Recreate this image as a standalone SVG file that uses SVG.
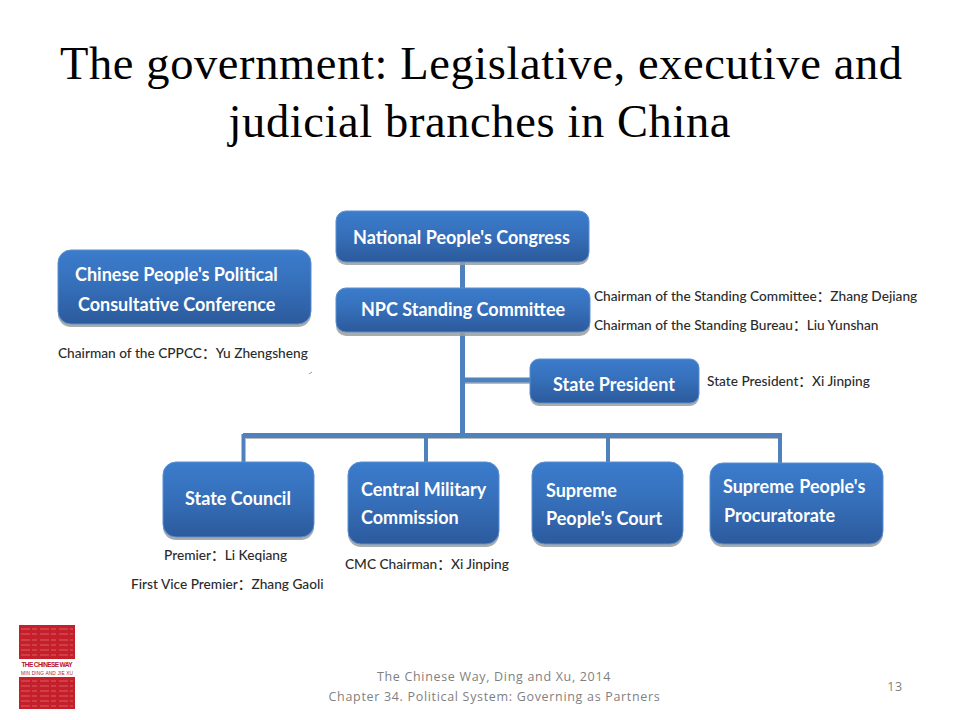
<svg xmlns="http://www.w3.org/2000/svg" width="960" height="720" viewBox="0 0 960 720">
<style>
.title{font-family:"Liberation Serif",serif;font-size:46.500px;fill:#000;text-anchor:middle}
.box{fill:url(#bg);stroke:#5b8fd0;stroke-width:1}
.sh{fill:#9a9d9b;opacity:.85}
.t{font-family:Lato,"Liberation Sans",sans-serif;font-weight:700;font-size:18px;fill:#fff}
.n{font-family:Lato,"Noto Sans CJK SC",sans-serif;font-size:13.700px;fill:#2b2b2b;font-weight:500}
.f{font-family:"Open Sans","Liberation Sans",sans-serif;font-size:12.500px;fill:#7f7f7f;text-anchor:middle;letter-spacing:.68px}
.c{stroke:#4f81bd;stroke-width:5;fill:none}
.c2{stroke:#4f81bd;stroke-width:4;fill:none}
.cs{stroke:#b9bcbc;stroke-width:2;fill:none}
.lg{font-family:"Liberation Sans",sans-serif;fill:#b81525}
.tx{stroke:#dc5a5f;stroke-width:1.500;stroke-dasharray:9 2 5 3;fill:none;opacity:.7}
</style>
<defs>
<linearGradient id="bg" x1="0" y1="0" x2="0" y2="1"><stop offset="0" stop-color="#3b7ccc"/><stop offset=".45" stop-color="#3670bb"/><stop offset="1" stop-color="#2c5a9c"/></linearGradient>
</defs>
<rect width="960" height="720" fill="#fff"/>
<g id="title">
<text class="title" x="481" y="79" textLength="842" lengthAdjust="spacing">The government: Legislative, executive and</text>
<text class="title" x="479.500" y="137" textLength="502" lengthAdjust="spacing">judicial branches in China</text>
</g>
<g id="connectors">
<path class="cs" d="M246 438H782M465 383H530"/>
<path class="c" d="M462.500 262V288M462.500 333V436M462 380H531M243 435.500H782"/>
<path class="c2" d="M243.500 434V463M426 434V463M608 434V463M780 434V464"/>
</g>
<g id="node-npc">
<rect class="sh" x="336" y="214" width="253" height="51" rx="10"/>
<rect class="box" x="336" y="211" width="253" height="51" rx="10"/>
<text class="t" x="353" y="244">National People's Congress</text>
</g>
<g id="node-standing">
<rect class="sh" x="336" y="291" width="254" height="45" rx="10"/>
<rect class="box" x="336" y="288" width="254" height="44" rx="10"/>
<text class="t" x="361" y="316">NPC Standing Committee</text>
<text class="n" x="594" y="301">Chairman of the Standing Committee：Zhang Dejiang</text>
<text class="n" x="594" y="330">Chairman of the Standing Bureau：Liu Yunshan</text>
</g>
<g id="node-cppcc">
<rect class="sh" x="58" y="253" width="253" height="74" rx="13"/>
<rect class="box" x="58" y="250" width="253" height="74" rx="13"/>
<text class="t" x="75" y="281">Chinese People's Political</text>
<text class="t" x="78" y="311">Consultative Conference</text>
<text class="n" x="58" y="358">Chairman of the CPPCC：Yu Zhengsheng</text>
<path d="M309 374L312 372" stroke="#9a9a9a" stroke-width="1"/>
</g>
<g id="node-president">
<rect class="sh" x="530" y="362" width="169" height="44" rx="9"/>
<rect class="box" x="530" y="359" width="169" height="44" rx="9"/>
<text class="t" x="553" y="391">State President</text>
<text class="n" x="707" y="386">State President：Xi Jinping</text>
</g>
<g id="node-council">
<rect class="sh" x="163" y="465" width="151" height="75" rx="13"/>
<rect class="box" x="163" y="462" width="151" height="75" rx="13"/>
<text class="t" x="185" y="505">State Council</text>
<text class="n" x="164" y="560">Premier：Li Keqiang</text>
<text class="n" x="131" y="589">First Vice Premier：Zhang Gaoli</text>
</g>
<g id="node-cmc">
<rect class="sh" x="348" y="465" width="151" height="82" rx="13"/>
<rect class="box" x="348" y="462" width="151" height="82" rx="13"/>
<text class="t" x="361" y="496">Central Military</text>
<text class="t" x="361" y="524">Commission</text>
<text class="n" x="345" y="569">CMC Chairman：Xi Jinping</text>
</g>
<g id="node-court">
<rect class="sh" x="532" y="465" width="151" height="82" rx="13"/>
<rect class="box" x="532" y="462" width="151" height="82" rx="13"/>
<text class="t" x="546" y="497">Supreme</text>
<text class="t" x="546" y="525">People's Court</text>
</g>
<g id="node-procuratorate">
<rect class="sh" x="710" y="466" width="173" height="81" rx="13"/>
<rect class="box" x="710" y="463" width="173" height="81" rx="13"/>
<text class="t" x="723" y="493" word-spacing="1">Supreme People's</text>
<text class="t" x="724" y="522">Procuratorate</text>
</g>
<g id="logo">
<rect x="19" y="625" width="56" height="84" fill="#c4202c"/>
<path class="tx" d="M21 629H73M21 634H73M21 640H73M21 645H73M21 650H73M21 655H73M21 681H73M21 686H73M21 691H73M21 696H73M21 701H73M21 706H73"/>
<rect x="19" y="659" width="56" height="18" fill="#fff"/>
<text class="lg" x="47" y="667" font-size="6.500" font-weight="700" text-anchor="middle" textLength="51">THE CHINESE WAY</text>
<text class="lg" x="47" y="674.500" font-size="4.800" text-anchor="middle" textLength="52">MIN DING AND JIE XU</text>
</g>
<g id="footer">
<text class="f" x="494" y="681">The Chinese Way, Ding and Xu, 2014</text>
<text class="f" x="494.500" y="701">Chapter 34. Political System: Governing as Partners</text>
<text class="f" x="895" y="691">13</text>
</g>
</svg>
